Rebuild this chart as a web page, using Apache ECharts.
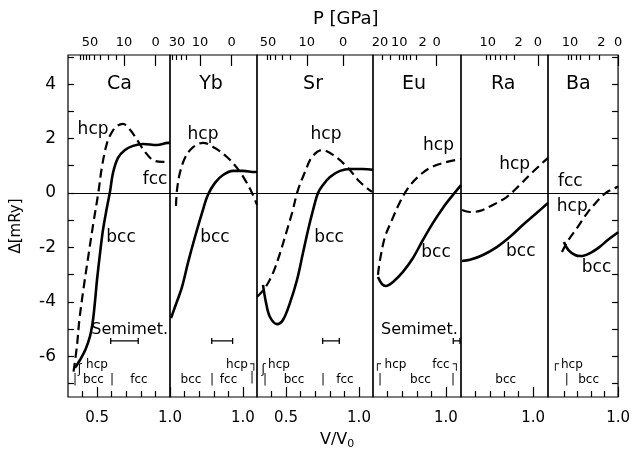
<!DOCTYPE html>
<html><head><meta charset="utf-8">
<script src="https://cdn.jsdelivr.net/npm/echarts@6/dist/echarts.min.js"></script>
<style>html,body{margin:0;padding:0;background:#fff}#c{width:633px;height:452px}</style>
</head><body><div id="c"></div>
<script>
// ---------------- DATA ----------------
const elements = ['Ca','Yb','Sr','Eu','Ra','Ba'];
const vMin = [0.3, 0.5, 0.301, 0.5, 0.5, 0.483];
const vMax = [1.0, 1.096, 1.096, 1.103, 1.103, 1.0];
const deltaMin = -7.5, deltaMax = 5.07;

// Δ (mRy) vs V/V0 — bcc (solid) and hcp (dashed), fcc = 0 reference
const caBcc = [[0.348,-6.43],[0.382,-6.14],[0.420,-5.75],[0.452,-5.25],[0.472,-4.65],[0.486,-3.95],[0.499,-3.20],[0.520,-2.21],[0.540,-1.36],[0.568,-0.51],[0.588,0.04],[0.609,0.74],[0.643,1.29],[0.691,1.58],[0.746,1.73],[0.815,1.80],[0.911,1.76],[0.986,1.84],[1.0,1.84]];
const caHcp = [[0.338,-6.57],[0.361,-5.65],[0.378,-4.67],[0.405,-3.57],[0.439,-2.34],[0.474,-1.11],[0.508,0.0],[0.533,0.96],[0.568,1.84],[0.602,2.24],[0.636,2.46],[0.677,2.54],[0.726,2.32],[0.774,1.95],[0.828,1.51],[0.883,1.21],[0.945,1.14],[1.0,1.14]];
const ybBcc = [[0.507,-4.60],[0.534,-4.19],[0.582,-3.46],[0.623,-2.57],[0.671,-1.62],[0.719,-0.74],[0.760,-0.07],[0.808,0.37],[0.863,0.66],[0.932,0.81],[1.0,0.81],[1.082,0.77],[1.096,0.77]];
const ybHcp = [[0.541,-0.48],[0.548,0.11],[0.568,0.74],[0.603,1.29],[0.651,1.65],[0.726,1.84],[0.808,1.65],[0.890,1.32],[0.959,0.92],[1.014,0.48],[1.062,0.0],[1.096,-0.44]];
const srBcc = [[0.342,-3.38],[0.363,-4.04],[0.390,-4.56],[0.438,-4.82],[0.479,-4.67],[0.527,-4.04],[0.575,-3.20],[0.616,-2.21],[0.651,-1.36],[0.685,-0.63],[0.719,0.0],[0.753,0.29],[0.801,0.59],[0.870,0.81],[0.938,0.88],[1.027,0.88],[1.096,0.85]];
const srHcp = [[0.301,-3.82],[0.356,-3.49],[0.411,-2.94],[0.459,-2.21],[0.507,-1.36],[0.541,-0.74],[0.582,0.11],[0.630,0.77],[0.678,1.32],[0.747,1.58],[0.822,1.40],[0.918,0.96],[1.007,0.40],[1.089,0.04]];
const euBcc = [[0.534,-3.09],[0.562,-3.35],[0.589,-3.42],[0.637,-3.27],[0.705,-2.90],[0.774,-2.39],[0.842,-1.73],[0.911,-1.10],[0.979,-0.55],[1.048,-0.07],[1.103,0.29]];
const euHcp = [[0.534,-3.01],[0.548,-2.46],[0.582,-1.62],[0.630,-0.99],[0.685,-0.33],[0.740,0.18],[0.808,0.59],[0.890,0.92],[0.979,1.10],[1.103,1.25]];
const raBcc = [[0.507,-2.50],[0.562,-2.46],[0.652,-2.28],[0.748,-1.99],[0.838,-1.62],[0.928,-1.18],[1.024,-0.74],[1.103,-0.37]];
const raHcp = [[0.507,-0.63],[0.562,-0.70],[0.631,-0.66],[0.721,-0.44],[0.817,-0.15],[0.907,0.29],[0.997,0.77],[1.103,1.29]];
const baBcc = [[0.600,-1.80],[0.634,-2.10],[0.683,-2.28],[0.724,-2.32],[0.793,-2.21],[0.862,-1.99],[0.924,-1.73],[0.993,-1.47],[1.0,-1.44]];
const baHcp = [[0.586,-2.17],[0.634,-1.73],[0.703,-1.25],[0.772,-0.74],[0.841,-0.33],[0.910,0.0],[0.993,0.22],[1.0,0.25]];
const bccCurves = [caBcc, ybBcc, srBcc, euBcc, raBcc, baBcc];
const hcpCurves = [caHcp, ybHcp, srHcp, euHcp, raHcp, baHcp];

// bottom V/V0 ticks
const vMinorTicks = [[0.4,0.6,0.7,0.8,0.9],[0.6,0.7,0.8,0.9],[0.4,0.6,0.7,0.8,0.9],[0.6,0.7,0.8,0.9],[0.6,0.7,0.8,0.9],[0.6,0.7,0.8,0.9]];
const vMajorTicks = [[0.5,1.0],[1.0],[0.5,1.0],[1.0],[1.0],[1.0]];
const vTickLabels = [[0.5,1.0],[1.0],[0.5,1.0],[1.0],[1.0],[1.0]];

// top pressure ticks (P in GPa, placed at V/V0)
const pMinorTicks = [[0.382,0.403,0.424,0.444,0.478,0.520,0.575,0.629],[0.518,0.546,0.580,0.614],[0.368,0.395,0.425,0.471,0.532],[0.560,0.616,0.680,0.708,0.731,0.753,0.799],[0.672,0.700,0.734,0.769,0.815,0.872],[0.630,0.657,0.692,0.722,0.784,0.864]];
const pMajorTicks = [[0.684,0.902],[0.705,0.923],[0.642,0.892],[0.936],[1.033],[1.0]];
const pLabelAt = [[0.451,0.684,0.902],[0.548,0.705,0.923],[0.377,0.642,0.892],[0.548,0.68,0.84,0.936],[0.686,0.900,1.033],[0.646,0.876,1.0]];
const pLabelText = [['50','10','0'],['30','10','0'],['50','10','0'],['20','10','2','0'],['10','2','0'],['10','2','0']];

// y ticks
const deltaTicks = [-7,-6,-5,-4,-3,-2,-1,0,1,2,3,4,5];
const deltaLabels = [-6,-4,-2,0,2,4];

// text annotations [text, V/V0, Δ]
const elementLabelAt = [[0.653,4.0],[0.781,4.0],[0.685,4.0],[0.781,4.0],[0.793,4.0],[0.707,4.0]];
const curveLabels = [
  [['hcp',0.472,2.32],['fcc',0.897,0.48],['bcc',0.664,-1.65]],
  [['hcp',0.726,2.13],['bcc',0.808,-1.65]],
  [['hcp',0.774,2.13],['bcc',0.795,-1.65]],
  [['hcp',0.949,1.73],['bcc',0.932,-2.19]],
  [['hcp',0.872,1.03],['bcc',0.914,-2.17]],
  [['fcc',0.648,0.40],['hcp',0.662,-0.51],['bcc',0.841,-2.76]]
];
const phaseLabels = [
  [['hcp',0.499,-6.32],['bcc',0.475,-6.88],['fcc',0.787,-6.88],['|',0.348,-6.88],['|',0.602,-6.88],['ʃ',0.380,-6.5]],
  [['bcc',0.644,-6.88],['|',0.788,-6.88],['fcc',0.901,-6.88],['hcp',0.959,-6.32],['┐',1.075,-6.32],['|',1.062,-6.80]],
  [['ʃ',0.346,-6.5],['hcp',0.452,-6.32],['|',0.356,-6.88],['bcc',0.555,-6.88],['|',0.753,-6.88],['fcc',0.904,-6.88]],
  [['┌',0.530,-6.32],['hcp',0.654,-6.32],['|',0.548,-6.88],['bcc',0.825,-6.88],['fcc',0.966,-6.32],['┐',1.072,-6.32],['|',1.048,-6.88]],
  [['bcc',0.810,-6.88]],
  [['┌',0.537,-6.32],['hcp',0.659,-6.32],['|',0.621,-6.88],['bcc',0.783,-6.88]]
];
const semimetLabels = [[['Semimet.',0.723,-5.02]],[],[],[['Semimet.',0.818,-5.02]],[],[]];
const semimetBars = [[0.593,0.782],[0.786,0.929],[0.751,0.865],[1.05,1.096],null,null];
const semimetBarDelta = -5.44;

// ---------------- LAYOUT / STYLE ----------------
const edges = [68,170,257,373,461,548,623];
const gTop = 55, gHeight = 342;
const FONT = 'DejaVu Sans';
const BLACK = '#000';

const grids=[], xAxes=[], yAxes=[], series=[];
for (let i=0;i<6;i++){
  grids.push({left:edges[i], width:edges[i+1]-edges[i], top:gTop, height:gHeight, show:true, borderColor:BLACK, borderWidth:1.2, backgroundColor:'transparent'});
  const base = {type:'value', gridIndex:i, min:vMin[i], max:vMax[i], axisLine:{show:false,onZero:false}, splitLine:{show:false}};
  xAxes.push(Object.assign({}, base, {position:'bottom',
    axisTick:{show:true,inside:true,length:10,customValues:vMajorTicks[i],lineStyle:{color:BLACK,width:1.2}},
    axisLabel:{show:true,customValues:vTickLabels[i],formatter:v=>Number(v).toFixed(1),fontSize:15,fontFamily:FONT,color:BLACK,margin:14}}));
  xAxes.push(Object.assign({}, base, {position:'bottom',
    axisTick:{show:true,inside:true,length:6,customValues:vMinorTicks[i],lineStyle:{color:BLACK,width:1.2}},
    axisLabel:{show:false}}));
  const la = pLabelAt[i], lt = pLabelText[i];
  xAxes.push(Object.assign({}, base, {position:'top',
    axisTick:{show:true,inside:true,length:11,customValues:pMajorTicks[i],lineStyle:{color:BLACK,width:1.2}},
    axisLabel:{show:true,customValues:la,formatter:v=>{const k=la.findIndex(p=>Math.abs(p-v)<1e-6);return k>=0?lt[k]:'';},fontSize:13,fontFamily:FONT,color:BLACK,margin:6}}));
  xAxes.push(Object.assign({}, base, {position:'top',
    axisTick:{show:true,inside:true,length:5,customValues:pMinorTicks[i],lineStyle:{color:BLACK,width:1.2}},
    axisLabel:{show:false}}));

  const yBase = {type:'value', gridIndex:i, min:deltaMin, max:deltaMax, axisLine:{show:false,onZero:false}, splitLine:{show:false}};
  if (i===0){
    yAxes.push(Object.assign({}, yBase, {position:'left',
      name:'Δ[mRy]', nameLocation:'middle', nameGap:44, nameRotate:90,
      nameTextStyle:{fontSize:15,fontFamily:FONT,color:BLACK},
      axisTick:{show:true,inside:true,length:6,customValues:deltaTicks,lineStyle:{color:BLACK,width:1.2}},
      axisLabel:{show:true,customValues:deltaLabels,formatter:v=>String(v),fontSize:17,fontFamily:FONT,color:BLACK,margin:12}}));
  } else {
    yAxes.push(Object.assign({}, yBase, {position:'left', axisTick:{show:false}, axisLabel:{show:false}}));
  }

  const xi = 4*i;
  series.push({type:'line', xAxisIndex:xi, yAxisIndex:i, data:bccCurves[i], smooth:0.35, symbol:'none',
    lineStyle:{color:BLACK,width:2.6,type:'solid'}, z:3,
    markLine:{silent:true,symbol:'none',label:{show:false},lineStyle:{color:BLACK,width:1,type:'solid'},data:[{yAxis:0}],animation:false}});
  series.push({type:'line', xAxisIndex:xi, yAxisIndex:i, data:hcpCurves[i], smooth:0.35, symbol:'none',
    lineStyle:{color:BLACK,width:2.2,type:[9,5]}, z:3});

  const mk = (arr, size) => ({type:'scatter', xAxisIndex:xi, yAxisIndex:i, symbolSize:1, silent:true,
    itemStyle:{color:'rgba(0,0,0,0)'},
    data:arr.map(a=>({name:a[0], value:[a[1],a[2]]})),
    label:{show:true,position:'inside',formatter:'{b}',fontSize:size,fontFamily:FONT,color:BLACK,
      textBorderWidth:0,textBorderColor:'transparent',textShadowBlur:0,opacity:1,
      align:'center',verticalAlign:'middle'}, z:5});
  series.push(mk([[elements[i], elementLabelAt[i][0], elementLabelAt[i][1]]], 19));
  series.push(mk(curveLabels[i], 17));
  series.push(mk(phaseLabels[i], 12));
  if (semimetLabels[i].length) series.push(mk(semimetLabels[i], 16));
  if (semimetBars[i]) {
    series.push({type:'line', xAxisIndex:xi, yAxisIndex:i, data:semimetBars[i].map(v=>[v,semimetBarDelta]),
      symbol:'rect', symbolSize:[1.3,6], itemStyle:{color:BLACK}, lineStyle:{color:BLACK,width:1.3}, z:4});
  }
}
yAxes.push({type:'value', gridIndex:5, min:deltaMin, max:deltaMax, position:'right',
  axisLine:{show:false,onZero:false}, splitLine:{show:false},
  axisTick:{show:true,inside:true,length:6,customValues:deltaTicks,lineStyle:{color:BLACK,width:1.2}},
  axisLabel:{show:false}});

const chart = echarts.init(document.getElementById('c'), null, {renderer:'canvas'});
chart.setOption({
  animation:false,
  backgroundColor:'#fff',
  grid:grids, xAxis:xAxes, yAxis:yAxes, series:series,
  graphic:[
    {type:'text', left:313, top:10, style:{text:'P [GPa]', fontSize:18, fontFamily:FONT, fill:BLACK}},
    {type:'text', left:320, top:432, style:{text:'V/V{s|0}', fontSize:16, fontFamily:FONT, fill:BLACK,
      rich:{s:{fontSize:11, fontFamily:FONT, fill:BLACK, verticalAlign:'bottom', padding:[8,0,0,0]}}}}
  ]
});
</script>
</body></html>
